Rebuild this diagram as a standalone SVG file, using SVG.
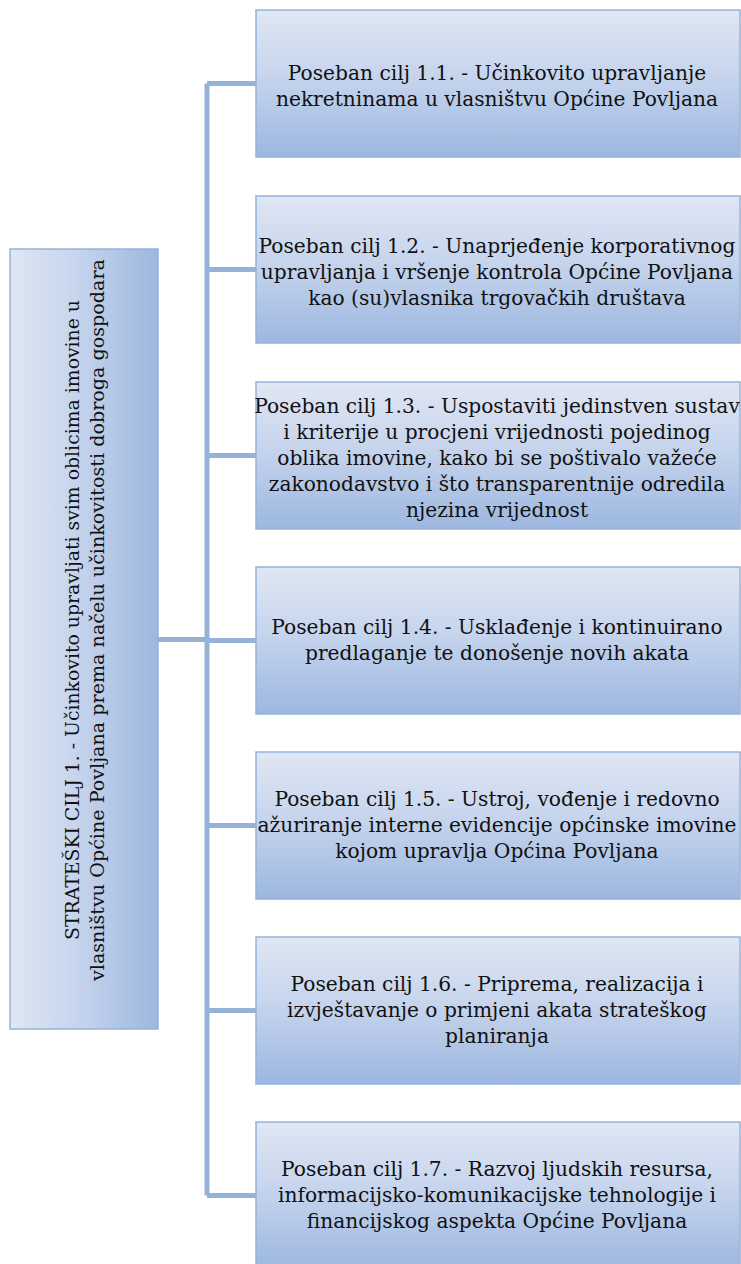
<svg xmlns="http://www.w3.org/2000/svg" width="741" height="1264" viewBox="0 0 741 1264">
<defs>
<linearGradient id="gv" x1="0" y1="0" x2="0" y2="1">
<stop offset="0" stop-color="#e0e7f4"/>
<stop offset="0.5" stop-color="#c3d2ec"/>
<stop offset="1" stop-color="#9cb7e0"/>
</linearGradient>
<linearGradient id="gh" x1="0" y1="0" x2="1" y2="0">
<stop offset="0" stop-color="#e0e7f4"/>
<stop offset="0.5" stop-color="#c3d2ec"/>
<stop offset="1" stop-color="#9cb7e0"/>
</linearGradient>
</defs>
<style>
.box{fill:url(#gv);stroke:#95b3d7;stroke-width:1.5}
.lbox{fill:url(#gh);stroke:#95b3d7;stroke-width:1.5}
.t{font-family:"DejaVu Serif","Liberation Serif",serif;font-size:20.2px;fill:#111;text-anchor:middle}
.tl{font-family:"DejaVu Serif","Liberation Serif",serif;font-size:19px;fill:#111;text-anchor:middle}
.c{fill:none;stroke:#95b3d7;stroke-width:5}
</style>
<rect width="741" height="1264" fill="#ffffff"/>
<g id="connectors">
<path class="c" d="M207,83.5 V1195.5"/>
<path class="c" d="M158,639.5 H207"/>
<path class="c" d="M207,83.5 H256"/>
<path class="c" d="M207,269.5 H256"/>
<path class="c" d="M207,455.5 H256"/>
<path class="c" d="M207,640.5 H256"/>
<path class="c" d="M207,825.5 H256"/>
<path class="c" d="M207,1010.5 H256"/>
<path class="c" d="M207,1195.5 H256"/>
</g>
<g id="root">
<rect class="lbox" x="10" y="249" width="148" height="780"/>
<g transform="translate(84,620) rotate(-90)">
<text class="tl" x="0" y="-5" textLength="640" lengthAdjust="spacingAndGlyphs">STRATEŠKI CILJ 1. - Učinkovito upravljati svim oblicima imovine u</text>
<text class="tl" x="0" y="20" textLength="722" lengthAdjust="spacingAndGlyphs">vlasništvu Općine Povljana prema načelu učinkovitosti dobroga gospodara</text>
</g>
</g>
<g id="n11">
<rect class="box" x="256" y="10" width="484" height="147"/>
<text class="t"><tspan x="497" y="80">Poseban cilj 1.1. - Učinkovito upravljanje</tspan><tspan x="497" y="106">nekretninama u vlasništvu Općine Povljana</tspan></text>
</g>
<g id="n12">
<rect class="box" x="256" y="196" width="484" height="147"/>
<text class="t"><tspan x="497" y="253">Poseban cilj 1.2. - Unaprjeđenje korporativnog</tspan><tspan x="497" y="279">upravljanja i vršenje kontrola Općine Povljana</tspan><tspan x="497" y="305">kao (su)vlasnika trgovačkih društava</tspan></text>
</g>
<g id="n13">
<rect class="box" x="256" y="382" width="484" height="147"/>
<text class="t"><tspan x="497" y="413">Poseban cilj 1.3. - Uspostaviti jedinstven sustav</tspan><tspan x="497" y="439">i kriterije u procjeni vrijednosti pojedinog</tspan><tspan x="497" y="465">oblika imovine, kako bi se poštivalo važeće</tspan><tspan x="497" y="491">zakonodavstvo i što transparentnije odredila</tspan><tspan x="497" y="517">njezina vrijednost</tspan></text>
</g>
<g id="n14">
<rect class="box" x="256" y="567" width="484" height="147"/>
<text class="t"><tspan x="497" y="634">Poseban cilj 1.4.  - Usklađenje i kontinuirano</tspan><tspan x="497" y="660">predlaganje te donošenje novih akata</tspan></text>
</g>
<g id="n15">
<rect class="box" x="256" y="752" width="484" height="147"/>
<text class="t"><tspan x="497" y="806">Poseban cilj 1.5. - Ustroj, vođenje i redovno</tspan><tspan x="497" y="832">ažuriranje interne evidencije općinske imovine</tspan><tspan x="497" y="858">kojom upravlja Općina Povljana</tspan></text>
</g>
<g id="n16">
<rect class="box" x="256" y="937" width="484" height="147"/>
<text class="t"><tspan x="497" y="991">Poseban cilj 1.6. - Priprema, realizacija i</tspan><tspan x="497" y="1017">izvještavanje o primjeni akata strateškog</tspan><tspan x="497" y="1043">planiranja</tspan></text>
</g>
<g id="n17">
<rect class="box" x="256" y="1122" width="484" height="147"/>
<text class="t"><tspan x="497" y="1176">Poseban cilj 1.7. - Razvoj ljudskih resursa,</tspan><tspan x="497" y="1202">informacijsko-komunikacijske tehnologije i</tspan><tspan x="497" y="1228">financijskog aspekta Općine Povljana</tspan></text>
</g>
</svg>
